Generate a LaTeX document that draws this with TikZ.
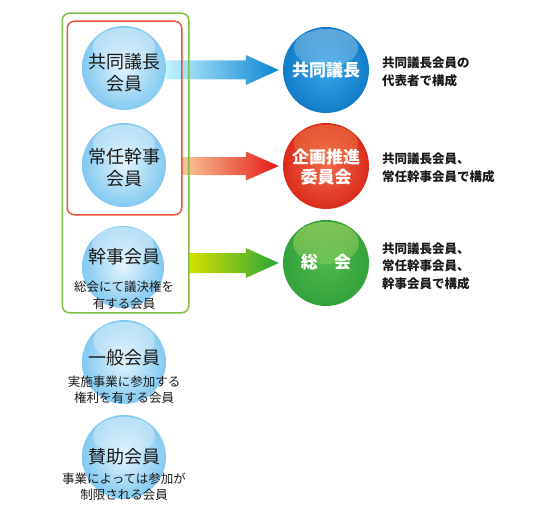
\documentclass[tikz,border=0pt]{standalone}
\usepackage{fontspec}
\setmainfont{Noto Sans CJK JP}
\usetikzlibrary{calc,fadings}
\tikzfading[name=hlfade, top color=transparent!45, bottom color=transparent!100]
\definecolor{lbin}{HTML}{E2F4FD}
\definecolor{lbout}{HTML}{82C9F0}
\definecolor{bin}{HTML}{35A6E8}
\definecolor{bout}{HTML}{127CC8}
\definecolor{rin}{HTML}{F26A48}
\definecolor{rout}{HTML}{DA2C1C}
\definecolor{gin}{HTML}{4DB84A}
\definecolor{gout}{HTML}{34A23C}
\definecolor{ghl}{HTML}{C0E070}
\definecolor{redline}{HTML}{E8503A}
\definecolor{greenline}{HTML}{7CC242}
\definecolor{txt}{HTML}{1A1A1A}
\begin{document}
\begin{tikzpicture}[x=1pt,y=-1pt,
  ballbase/.style={circle, minimum size=84pt, inner sep=0pt, shading=radial},
  lball/.style={ballbase, inner color=lbin, outer color=lbout,
    path picture={\fill[white, path fading=hlfade, opacity=0.8] ($(path picture bounding box.center)+(0,-21)$) ellipse [x radius=31, y radius=19];}},
  bball/.style={ballbase, minimum size=86pt, inner color=bin, outer color=bout,
    path picture={\fill[white, path fading=hlfade, opacity=0.6] ($(path picture bounding box.center)+(0,-22)$) ellipse [x radius=32, y radius=19];}},
  rball/.style={ballbase, minimum size=86pt, inner color=rin, outer color=rout,
    path picture={\fill[orange!60!white, path fading=hlfade, opacity=0.6] ($(path picture bounding box.center)+(0,-22)$) ellipse [x radius=32, y radius=19];}},
  gball/.style={ballbase, minimum size=86pt, inner color=gin, outer color=gout,
    path picture={\fill[ghl, path fading=hlfade] ($(path picture bounding box.center)+(0,-20)$) ellipse [x radius=33, y radius=21];}},
  ttl/.style={align=center, text=txt, inner sep=0pt, font=\fontsize{18}{22}\selectfont},
  sub/.style={align=center, text=txt, inner sep=0pt, font=\fontsize{12.5}{16.5}\selectfont},
  wtxt/.style={align=center, text=white, inner sep=0pt, font=\bfseries\fontsize{17}{20.5}\selectfont},
  desc/.style={align=left, anchor=west, text=txt, inner sep=0pt, font=\bfseries\fontsize{12.5}{17.5}\selectfont},
  boxline/.style={rounded corners=7pt, line width=1.5pt, inner sep=0pt}
]
\useasboundingbox (0,0) rectangle (540,516);

% left circles
\node[lball] (c1) at (124,68) {};
\node[lball] (c2) at (124,165) {};
\node[lball, minimum size=82pt] (c3) at (123,267) {};
\node[lball] (c4) at (124,362) {};
\node[lball] (c5) at (124,457) {};

% right circles
\node[bball] (r1) at (326,70) {};
\node[rball] (r2) at (326,166) {};
\node[gball] (r3) at (326,263) {};

% boxes (coordinates only, drawn later)
\node[boxline, minimum width=125pt, minimum height=298pt] (gb) at (125.5,163) {};
\node[boxline, minimum width=113pt, minimum height=192pt] (rb) at (124.5,118) {};

% arrows
\shade[left color=blue!20!cyan!25!white, right color={rgb,255:red,10;green,132;blue,210}]
  ($(c1.east|-r1.west)+(0,-9.5)$) -- ($(r1.west)+(-37,-9.5)$) -- ($(r1.west)+(-37,-15)$)
  -- ($(r1.west)+(-4,0)$) -- ($(r1.west)+(-37,15)$) -- ($(r1.west)+(-37,9.5)$)
  -- ($(c1.east|-r1.west)+(0,9.5)$) -- cycle;
\shade[left color={rgb,255:red,248;green,200;blue,150}, right color={rgb,255:red,228;green,24;blue,24}]
  ($(rb.east|-r2.west)+(0,-9)$) -- ($(r2.west)+(-37,-9)$) -- ($(r2.west)+(-37,-14.5)$)
  -- ($(r2.west)+(-4,0)$) -- ($(r2.west)+(-37,14.5)$) -- ($(r2.west)+(-37,9)$)
  -- ($(rb.east|-r2.west)+(0,9)$) -- cycle;
\shade[left color={rgb,255:red,214;green,224;blue,0}, right color={rgb,255:red,40;green,164;blue,56}]
  ($(gb.east|-r3.west)+(0,-10)$) -- ($(r3.west)+(-37,-10)$) -- ($(r3.west)+(-37,-15)$)
  -- ($(r3.west)+(-4,0)$) -- ($(r3.west)+(-37,15)$) -- ($(r3.west)+(-37,10)$)
  -- ($(gb.east|-r3.west)+(0,10)$) -- cycle;

% box outlines on top
\draw[greenline, line width=1.5pt, rounded corners=7pt] (gb.north west) rectangle (gb.south east);
\draw[redline, line width=1.5pt, rounded corners=7pt] (rb.north west) rectangle (rb.south east);

% left texts
\node[ttl] (t1) at (124,73) {共同議長\\会員};
\node[ttl] (t2) at (124,168) {常任幹事\\会員};
\node[ttl] (t3) at (124,257) {幹事会員};
\node[sub] (s3) at (124,295) {総会にて議決権を\\有する会員};
\node[ttl] (t4) at (124,358) {一般会員};
\node[sub] (s4) at (124,390) {実施事業に参加する\\権利を有する会員};
\node[ttl] (t5) at (124,457) {賛助会員};
\node[sub] (s5) at (124,486.5) {事業によっては参加が\\制限される会員};

% right circle texts
\node[wtxt] (w1) at (r1.center) {共同議長};
\node[wtxt] at ($(r2.center)+(0,1)$) (w2) {企画推進\\委員会};
\node[wtxt] at ($(r3.center)+(0,-1)$) (w3) {総\hspace{0.95em}会};

% descriptions
\node[desc] (d1) at (382,72) {共同議長会員の\\代表者で構成};
\node[desc] (d2) at (382,168) {共同議長会員、\\常任幹事会員で構成};
\node[desc] (d3) at (382,266) {共同議長会員、\\常任幹事会員、\\幹事会員で構成};
\end{tikzpicture}
\end{document}
